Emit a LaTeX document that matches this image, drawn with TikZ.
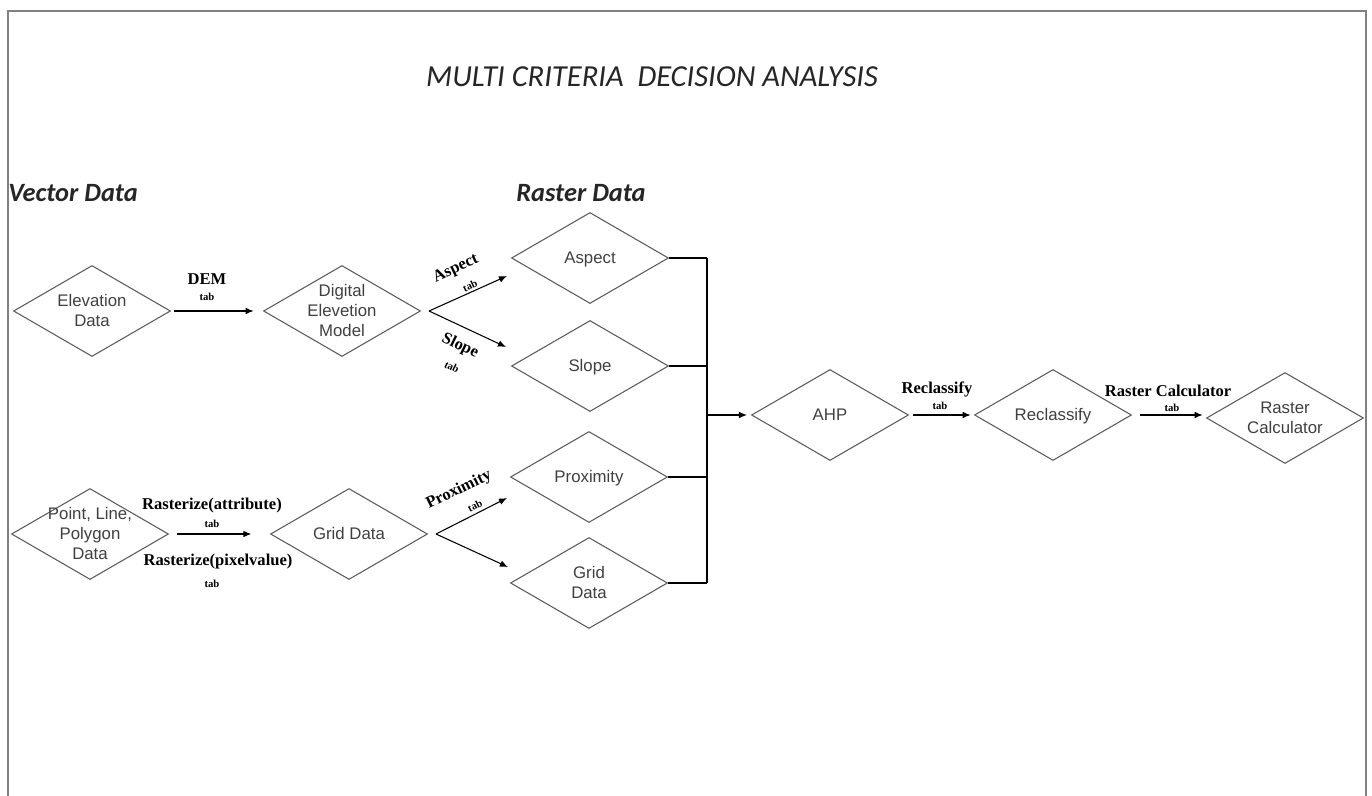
\documentclass[tikz,border=0pt]{standalone}
\usepackage{fontspec}
\newfontfamily\arialf{Liberation Sans}
\newfontfamily\timesf{Liberation Serif}
\newfontfamily\calibf{Carlito}
\usetikzlibrary{shapes.geometric,arrows.meta,calc}
\definecolor{edgegray}{HTML}{5C5C5C}
\definecolor{textgray}{HTML}{404040}
\definecolor{framegray}{HTML}{808080}
% centred multi-line text that does not grow the diamond
\newcommand{\dtxt}[1]{\makebox[0pt]{\raisebox{-0.3em}[0pt][0pt]{\begin{tabular}{@{}c@{}}#1\end{tabular}}}}

\begin{document}
\begin{tikzpicture}[x=0.75pt,y=-0.75pt,
  dia/.style={diamond, draw=edgegray, line width=0.8pt, minimum width=117.75pt,
    minimum height=68.25pt, inner sep=0pt, text=textgray,
    font=\arialf\fontsize{12.6}{15}\selectfont},
  arr/.style={draw=black, line width=0.8pt, -{Latex[length=6pt,width=5pt]}},
  bus/.style={draw=black, line width=0.8pt},
  lbl/.style={font=\timesf\bfseries\fontsize{12.4}{14}\selectfont, inner sep=0pt},
  tabl/.style={font=\timesf\bfseries\fontsize{8}{9}\selectfont, inner sep=0pt},
  head/.style={font=\calibf\bfseries\itshape\fontsize{19.8}{22}\selectfont, inner sep=0pt, text=black!85}
]
\useasboundingbox (0,0) rectangle (1372,796);
\fill[white] (0,0) rectangle (1372,796);

% page frame (open at the bottom)
\draw[framegray, line width=1.8pt] (8,796) -- (8,11) -- (1366,11) -- (1366,796);

% headings
\node[font=\calibf\itshape\fontsize{22.9}{26}\selectfont, inner sep=0pt, text=black!85] (title) at (652,77) {MULTI CRITERIA\ \ DECISION ANALYSIS};
\node[head, anchor=west] (vec) at (8,193) {Vector Data};
\node[head, anchor=west] (ras) at (516,193) {Raster Data};

% process nodes
\node[dia] (elev)  at (92,311)   {\dtxt{Elevation\\Data}};
\node[dia] (dem)   at (342,311)  {\dtxt{Digital\\Elevetion\\Model}};
\node[dia] (asp)   at (590,258)  {\dtxt{Aspect}};
\node[dia] (slope) at (590,366)  {\dtxt{Slope}};
\node[dia] (pld)   at (90,534)   {\dtxt{Point, Line,\\Polygon\\Data}};
\node[dia] (grid)  at (349,534)  {\dtxt{Grid Data}};
\node[dia] (prox)  at (589,477)  {\dtxt{Proximity}};
\node[dia] (grid2) at (589,583)  {\dtxt{Grid\\Data}};
\node[dia] (ahp)   at (830,415)  {\dtxt{AHP}};
\node[dia] (recl)  at (1053,415) {\dtxt{Reclassify}};
\node[dia] (rc)    at (1285,418) {\dtxt{Raster\\Calculator}};

% arrow ends beside the slanted inputs
\coordinate (aspIn)   at ($(asp.west)+(-4,18)$);
\coordinate (slopeIn) at ($(slope.west)+(-5,-19)$);
\coordinate (proxIn)  at ($(prox.west)+(-3,21)$);
\coordinate (grid2In) at ($(grid2.west)+(-2,-16)$);
\coordinate (demOut)  at ($(dem.east)+(8,0)$);
\coordinate (gridOut) at ($(grid.east)+(8,0)$);

% vector to raster
\draw[arr, shorten <=2.5pt, shorten >=7pt] (elev.east) -- (dem.west);
\node[lbl]  (lDEM)  at (207,279) {DEM};
\node[tabl] (tDEM)  at (207,297) {tab};

\draw[arr, shorten <=6pt, shorten >=14pt] (pld.east) -- (grid.west);
\node[lbl]  (lRa)  at (212,506) {Rasterize(attribute)};
\node[tabl] (tRa)  at (212,524) {tab};
\node[lbl]  (lRp)  at (218,562) {Rasterize(pixelvalue)};
\node[tabl] (tRp)  at (212,584) {tab};

% derived rasters
\draw[arr] (demOut) -- (aspIn);
\draw[arr] (demOut) -- (slopeIn);
\node[lbl, rotate=25]   (lAsp)   at (456,269) {Aspect};
\node[tabl, rotate=25]  (tAsp)   at (470,286) {tab};
\node[lbl, rotate=-26]  (lSlope) at (460,346) {Slope};
\node[tabl, rotate=-26] (tSlope) at (452,367) {tab};

\draw[arr] (gridOut) -- (proxIn);
\draw[arr] (gridOut) -- (grid2In);
\node[lbl, rotate=26]  (lProx) at (459,490) {Proximity};
\node[tabl, rotate=26] (tProx) at (475,506) {tab};

% collector bus into AHP
\coordinate (busT) at (707,258);
\coordinate (busB) at (707,583);
\coordinate (busM) at (707,415);
\draw[bus] (asp.east) -- (busT);
\draw[bus] (slope.east) -- (slope.east -| busT);
\draw[bus] (prox.east) -- (prox.east -| busT);
\draw[bus] (grid2.east) -- (busB);
\draw[bus] (busT) -- (busB);
\draw[arr, shorten >=3pt] (busM) -- (ahp.west);

% weighting and overlay
\draw[arr, shorten <=3pt, shorten >=2.5pt] (ahp.east) -- (recl.west);
\node[lbl]  (lRecl) at (937,389) {Reclassify};
\node[tabl] (tRecl) at (940,406) {tab};

\draw[arr, shorten <=6pt, shorten >=2.5pt] (recl.east) -- (rc.west |- recl.east);
\node[lbl]  (lRC) at (1168,391) {Raster Calculator};
\node[tabl] (tRC) at (1172,408) {tab};
\end{tikzpicture}
\end{document}
